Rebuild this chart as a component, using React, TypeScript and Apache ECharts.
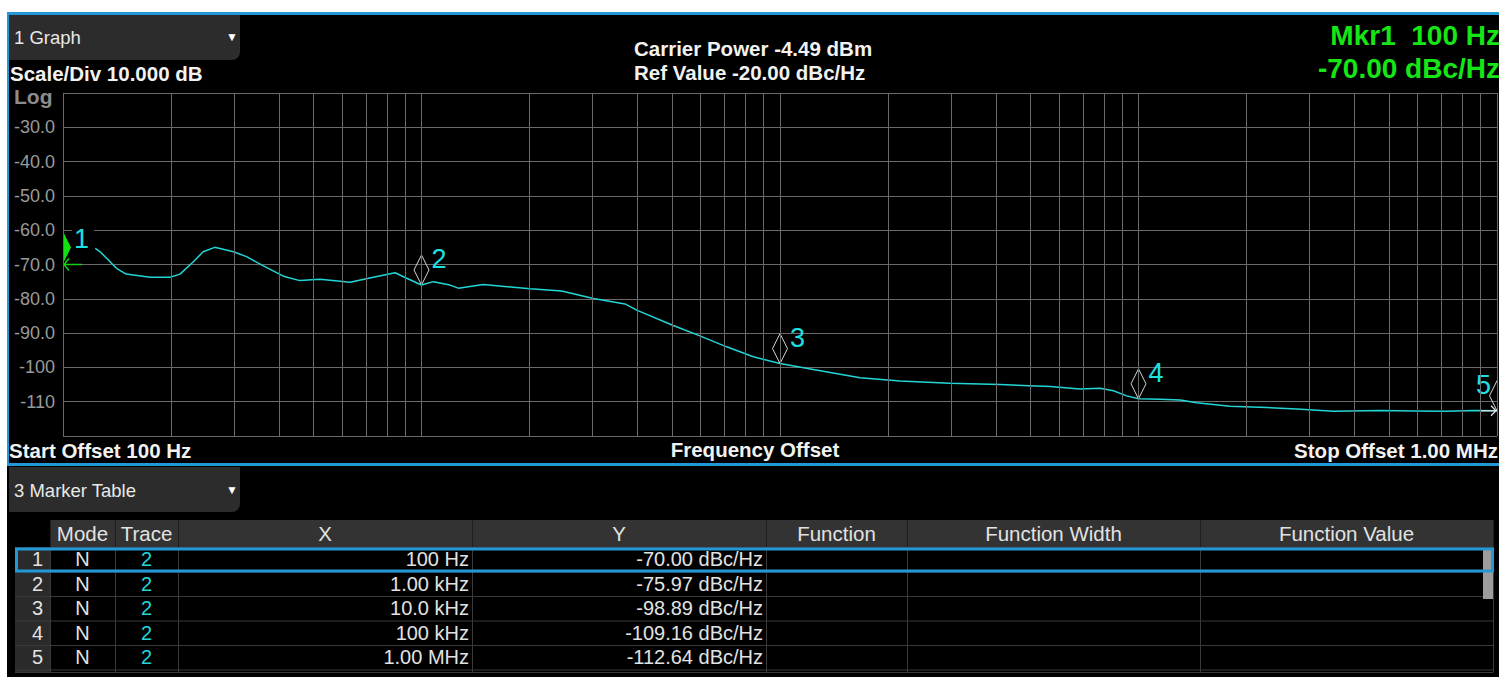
import React, { useEffect, useRef } from 'react';
import * as echarts from 'echarts';

const FONT = '"Liberation Sans", Arial, Helvetica, sans-serif';

// ---- Trace data (frequency offset in Hz, level in dBc/Hz) ----
const traceFreq = [
  123, 127, 141, 150, 175, 199, 212, 231, 246, 265, 299, 325, 362, 412, 458, 521, 632, 734, 844, 909,
  1000, 1079, 1201, 1267, 1487, 2007, 2460, 3016, 3696, 3983, 5038, 5980, 7100, 8425,
  10000, 12380, 16720, 21610, 29800, 41100, 56700, 68680, 78100, 85100, 92700,
  100000, 114800, 130600, 145300, 179900, 227900, 276300, 349600, 471700, 584400, 724400, 859000, 1000000,
];
const traceLevel = [
  -65.3, -66.3, -71.1, -72.8, -73.7, -73.7, -72.8, -69.2, -66.3, -65.0, -66.3, -67.7, -70.4, -73.4, -74.7, -74.3, -75.2, -73.7, -72.4, -74.0,
  -75.97, -75.0, -76.0, -76.9, -75.8, -77.1, -77.7, -79.9, -81.5, -83.3, -87.8, -90.8, -94.0, -96.9,
  -98.89, -100.6, -103.0, -104.0, -104.6, -105.0, -105.6, -106.3, -106.1, -106.8, -108.3,
  -109.16, -109.3, -109.5, -110.3, -111.3, -111.7, -112.1, -112.8, -112.6, -112.7, -112.8, -112.6, -112.64,
];

// ---- Markers ----
const markerFreq = [100, 1000, 10000, 100000, 1000000];
const markerLevel = [-70.0, -75.97, -98.89, -109.16, -112.64];
const markerNum = ['1', '2', '3', '4', '5'];
const markerMode = ['N', 'N', 'N', 'N', 'N'];
const markerTrace = ['2', '2', '2', '2', '2'];
const markerXText = ['100 Hz', '1.00 kHz', '10.0 kHz', '100 kHz', '1.00 MHz'];
const markerYText = ['-70.00 dBc/Hz', '-75.97 dBc/Hz', '-98.89 dBc/Hz', '-109.16 dBc/Hz', '-112.64 dBc/Hz'];
const tableHeaders = ['', 'Mode', 'Trace', 'X', 'Y', 'Function', 'Function Width', 'Function Value'];

// ---- Axes ----
const xMin = 100;
const xMax = 1000000;
const decades = [100, 1000, 10000, 100000];
const decadeMultipliers = [1, 2, 3, 4, 5, 6, 7, 8, 9];
const yMin = -120;
const yMax = -20;
const yStep = 10;

// ---- Header texts ----
const graphTitle = '1 Graph';
const scaleText = 'Scale/Div 10.000 dB';
const logText = 'Log';
const carrierText = 'Carrier Power -4.49 dBm';
const refText = 'Ref Value -20.00 dBc/Hz';
const mkrLine1 = 'Mkr1  100 Hz';
const mkrLine2 = '-70.00 dBc/Hz';
const startText = 'Start Offset 100 Hz';
const centerText = 'Frequency Offset';
const stopText = 'Stop Offset 1.00 MHz';
const tableTitle = '3 Marker Table';

const BLUE = '#2298d6';
const GRID = '#6a6a6a';
const CYAN = '#22d6d6';
const GREEN = '#16e616';

function txt(x: number, y: number, text: string, font: string, fill: string, align = 'left', z = 10) {
  return {
    type: 'text',
    x,
    y,
    z,
    silent: true,
    style: {
      text,
      font,
      fill,
      align,
      textAlign: align,
      verticalAlign: 'middle',
      textVerticalAlign: 'middle',
    },
  };
}

function rect(x: number, y: number, w: number, h: number, style: any, z = 5, r?: any) {
  return { type: 'rect', z, silent: true, shape: { x, y, width: w, height: h, r: r || 0 }, style };
}

function hline(x1: number, x2: number, y: number, color: string, w = 1, z = 6) {
  return { type: 'line', z, silent: true, shape: { x1, y1: y, x2, y2: y }, style: { stroke: color, lineWidth: w } };
}
function vline(x: number, y1: number, y2: number, color: string, w = 1, z = 6) {
  return { type: 'line', z, silent: true, shape: { x1: x, y1, x2: x, y2 }, style: { stroke: color, lineWidth: w } };
}

function buildGraphic() {
  const g: any[] = [];
  const boldFont = `bold 20.5px ${FONT}`;
  // white page margins and blue frame lines
  g.push(rect(0, 0, 1499, 12, { fill: '#ffffff' }, 1));
  g.push(rect(0, 0, 7, 677, { fill: '#ffffff' }, 1));
  g.push(rect(7, 12, 1492, 3, { fill: BLUE }, 2));
  g.push(rect(7, 12, 2, 454, { fill: BLUE }, 2));
  g.push(rect(7, 463, 1492, 3, { fill: BLUE }, 2));

  // graph tab
  g.push(rect(9, 15, 231, 45, { fill: '#2c2c2c' }, 3, [0, 0, 8, 0]));
  g.push(txt(14, 37.5, graphTitle, `18.5px ${FONT}`, '#e8e8e8'));
  g.push(txt(232, 37, '\u25BC', `12px ${FONT}`, '#ffffff', 'center'));

  g.push(txt(10, 73, scaleText, boldFont, '#f2f2f2'));
  g.push(txt(14, 96, logText, `bold 21px ${FONT}`, '#8c8c8c'));

  g.push(txt(634, 48.5, carrierText, boldFont, '#f2f2f2'));
  g.push(txt(634, 72.5, refText, boldFont, '#f2f2f2'));

  g.push(txt(1500, 35.5, mkrLine1, `bold 28px ${FONT}`, GREEN, 'right'));
  g.push(txt(1500, 68.5, mkrLine2, `bold 28px ${FONT}`, GREEN, 'right'));

  g.push(txt(9, 450.5, startText, boldFont, '#f2f2f2'));
  g.push(txt(755, 449.5, centerText, boldFont, '#f2f2f2', 'center'));
  g.push(txt(1498, 450.5, stopText, boldFont, '#f2f2f2', 'right'));

  // marker table tab
  g.push(rect(9, 467, 231, 45, { fill: '#2c2c2c' }, 3, [0, 0, 8, 0]));
  g.push(txt(14, 490, tableTitle, `18.5px ${FONT}`, '#e8e8e8'));
  g.push(txt(232, 490, '\u25BC', `12px ${FONT}`, '#ffffff', 'center'));

  // table
  const cols = [15, 50, 115, 178, 472, 766, 907, 1200, 1493];
  const headTop = 520;
  const headH = 27;
  const rowTop = headTop + headH;
  const rowH = 24.5;
  const nRows = markerNum.length;
  const tableBottom = rowTop + rowH * nRows;

  g.push(rect(cols[1], headTop, cols[8] - cols[1], headH, { fill: '#333333' }, 4));
  g.push(rect(cols[0], rowTop, cols[1] - cols[0], tableBottom - rowTop + 3, { fill: '#2a2a2a' }, 4));
  for (let i = 1; i < cols.length; i++) {
    g.push(vline(cols[i] + 0.5, headTop, rowTop, '#1f1f1f', 1));
    g.push(vline(cols[i] + 0.5, rowTop, tableBottom + 3, '#3a3a3a', 1));
  }
  for (let r = 0; r <= nRows; r++) {
    g.push(hline(cols[0], cols[8], rowTop + r * rowH + 0.5, '#3a3a3a', 1));
  }
  g.push(hline(cols[0], cols[8], tableBottom + 3, '#3a3a3a', 1));

  const headFont = `20.5px ${FONT}`;
  for (let c = 1; c < tableHeaders.length; c++) {
    g.push(txt((cols[c] + cols[c + 1]) / 2, headTop + headH / 2, tableHeaders[c], headFont, '#e2e2e2', 'center', 12));
  }
  const cellFont = `20px ${FONT}`;
  for (let r = 0; r < nRows; r++) {
    const cy = rowTop + r * rowH + rowH / 2;
    g.push(txt(43, cy, markerNum[r], cellFont, '#e2e2e2', 'right', 12));
    g.push(txt((cols[1] + cols[2]) / 2, cy, markerMode[r], cellFont, '#e2e2e2', 'center', 12));
    g.push(txt((cols[2] + cols[3]) / 2, cy, markerTrace[r], cellFont, CYAN, 'center', 12));
    g.push(txt(cols[4] - 3, cy, markerXText[r], cellFont, '#e2e2e2', 'right', 12));
    g.push(txt(cols[5] - 3, cy, markerYText[r], cellFont, '#e2e2e2', 'right', 12));
  }
  // scrollbar + selected row frame
  g.push(rect(1483, 549, 10, 50, { fill: '#9c9c9c' }, 13));
  g.push(rect(16.5, 549, 1476, 22, { fill: 'none', stroke: BLUE, lineWidth: 3 }, 14));
  return g;
}

function renderMarker(params: any, api: any) {
  const i = params.dataIndex;
  const p = api.coord([api.value(0), api.value(1)]);
  const x = p[0];
  const y = p[1];
  const first = i === 0;
  const last = i === markerFreq.length - 1;
  const children: any[] = [];
  if (first) {
    children.push({
      type: 'polygon',
      shape: { points: [[x, y - 2], [x + 7.5, y - 17], [x, y - 32]] },
      style: { fill: '#11e011', stroke: '#11e011', lineWidth: 1 },
    });
    children.push({ type: 'line', shape: { x1: x, y1: y, x2: x + 19, y2: y }, style: { stroke: '#11d011', lineWidth: 1.5 } });
    children.push({
      type: 'polyline',
      shape: { points: [[x + 6, y - 6], [x + 1, y], [x + 6, y + 6]] },
      style: { stroke: '#11d011', lineWidth: 1.5, fill: 'none' },
    });
  } else {
    children.push({
      type: 'polygon',
      shape: { points: [[x, y], [x + 7.5, y - 15], [x, y - 30], [x - 7.5, y - 15]] },
      style: { fill: 'none', stroke: '#d4d4d4', lineWidth: 1 },
    });
  }
  if (last) {
    children.push({ type: 'line', shape: { x1: x - 17, y1: y, x2: x, y2: y }, style: { stroke: '#e6e6e6', lineWidth: 1.2 } });
    children.push({
      type: 'polyline',
      shape: { points: [[x - 6, y - 5], [x - 1, y], [x - 6, y + 5]] },
      style: { stroke: '#e6e6e6', lineWidth: 1.2, fill: 'none' },
    });
  }
  children.push({
    type: 'text',
    x: last ? x - 6 : x + (first ? 9 : 10),
    y: y - 26,
    style: {
      text: markerNum[i],
      font: `27px ${FONT}`,
      fill: '#1fe0e0',
      align: last ? 'right' : 'left',
      textAlign: last ? 'right' : 'left',
      verticalAlign: 'middle',
      textVerticalAlign: 'middle',
      backgroundColor: first ? '#000000' : undefined,
      padding: first ? [0, 5, 0, 2] : 0,
    },
  });
  return { type: 'group', children };
}

export default function App() {
  const ref = useRef<HTMLDivElement>(null);
  useEffect(() => {
    if (!ref.current) return;
    const chart = echarts.init(ref.current, undefined, { renderer: 'svg' });
    const vlines: number[] = [];
    decades.forEach((d) => decadeMultipliers.forEach((m) => vlines.push(d * m)));
    vlines.push(xMax);
    const trace = traceFreq.map((f, i) => [f, traceLevel[i]]);
    const markers = markerFreq.map((f, i) => [f, markerLevel[i]]);

    chart.setOption({
      animation: false,
      backgroundColor: '#000000',
      grid: { left: 63, top: 93, width: 1434, height: 343, containLabel: false },
      xAxis: {
        type: 'log',
        logBase: 10,
        min: xMin,
        max: xMax,
        axisLine: { show: false },
        axisTick: { show: false },
        axisLabel: { show: false },
        splitLine: { show: false },
      },
      yAxis: {
        type: 'value',
        min: yMin,
        max: yMax,
        interval: yStep,
        axisLine: { show: false },
        axisTick: { show: false },
        splitLine: { show: true, lineStyle: { color: GRID, width: 1 } },
        axisLabel: {
          color: '#9a9a9a',
          fontSize: 18,
          fontFamily: FONT,
          margin: 8,
          formatter: (v: number) => {
            if (v === yMin || v === yMax) return '';
            return Math.abs(v) >= 100 ? String(v) : v.toFixed(1);
          },
        },
      },
      series: [
        {
          type: 'line',
          data: [],
          z: 1,
          silent: true,
          markLine: {
            silent: true,
            symbol: ['none', 'none'],
            label: { show: false },
            lineStyle: { color: GRID, width: 1, type: 'solid' },
            emphasis: { disabled: true },
            data: vlines.map((v) => ({ xAxis: v })),
          },
        },
        {
          type: 'line',
          data: trace,
          z: 3,
          silent: true,
          showSymbol: false,
          symbol: 'none',
          lineStyle: { color: CYAN, width: 1.5 },
        },
        {
          type: 'custom',
          data: markers,
          z: 4,
          silent: true,
          clip: true,
          renderItem: renderMarker,
        },
      ],
      graphic: buildGraphic(),
    });
    return () => chart.dispose();
  }, []);
  return <div ref={ref} style={{ position: 'fixed', left: 0, top: 0, width: 1499, height: 677 }} />;
}
